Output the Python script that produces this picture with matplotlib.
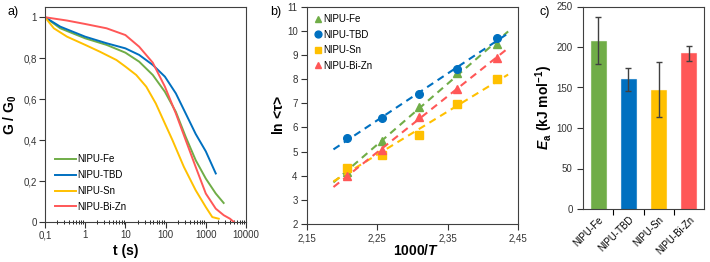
import numpy as np
import matplotlib
matplotlib.use("Agg")
import matplotlib.pyplot as plt
from matplotlib.ticker import FuncFormatter, FixedLocator, LogLocator, NullFormatter

plt.rcParams['font.family'] = ['Liberation Sans', 'DejaVu Sans']
plt.rcParams['mathtext.fontset'] = 'custom'
plt.rcParams['mathtext.rm'] = 'Liberation Sans'
plt.rcParams['mathtext.it'] = 'Liberation Sans:italic'
plt.rcParams['mathtext.bf'] = 'Liberation Sans:bold'
plt.rcParams['mathtext.bfit'] = 'Liberation Sans:bold:italic'

names = ["NIPU-Fe", "NIPU-TBD", "NIPU-Sn", "NIPU-Bi-Zn"]
colors = ["#70AD47", "#0070C0", "#FFC000", "#FF5757"]

# Panel a: stress relaxation
t_fe = [0.1, 0.24, 1.0, 3.4, 10, 22, 48, 96, 180, 316, 560, 1000, 1770, 2780]
g_fe = [1.0, 0.946, 0.897, 0.865, 0.827, 0.783, 0.718, 0.636, 0.538, 0.416, 0.302, 0.212, 0.139, 0.093]
t_tbd = [0.1, 0.24, 1.0, 3.4, 10, 22, 48, 96, 180, 316, 560, 1000, 1770]
g_tbd = [1.0, 0.954, 0.905, 0.873, 0.848, 0.816, 0.767, 0.71, 0.628, 0.53, 0.43, 0.345, 0.237]
t_sn = [0.1, 0.166, 0.354, 1.0, 2.3, 6.0, 10, 18.6, 33, 57, 96, 148, 285, 560, 1000, 1450, 2100]
g_sn = [1.0, 0.946, 0.905, 0.865, 0.832, 0.791, 0.759, 0.718, 0.661, 0.579, 0.481, 0.4, 0.269, 0.155, 0.073, 0.024, 0.016]
t_bz = [0.1, 0.35, 1.0, 3.4, 10, 22, 48, 96, 180, 316, 560, 1000, 1770, 2800, 4000, 5000]
g_bz = [1.0, 0.984, 0.967, 0.946, 0.913, 0.856, 0.778, 0.661, 0.53, 0.4, 0.269, 0.139, 0.065, 0.033, 0.016, 0.0]

# Panel b: Arrhenius
inv_T = [2.207, 2.257, 2.309, 2.363, 2.420]
ln_fe = [4.15, 5.42, 6.86, 8.27, 9.44]
ln_tbd = [5.55, 6.38, 7.37, 8.40, 9.69]
ln_sn = [4.31, 4.86, 5.69, 6.97, 7.99]
ln_bz = [3.97, 5.08, 6.42, 7.58, 8.89]

# Panel c: activation energies
ea = [208, 160, 147, 192]
ea_err = [28.5, 14, 34, 9.5]

fig = plt.figure(figsize=(7.1, 2.62), dpi=100)

def comma(v, pos):
    s = ('%g' % v)
    return s.replace('.', ',')

def style_spines(ax):
    for sp in ax.spines.values():
        sp.set_linewidth(0.8)
        sp.set_color('#404040')

# ---------- a ----------
axa = fig.add_axes([45/710, 1-222/262, 201/710, 215/262])
for t, g, c, n in zip([t_fe, t_tbd, t_sn, t_bz], [g_fe, g_tbd, g_sn, g_bz], colors, names):
    axa.plot(t, g, color=c, lw=1.4, label=n)
axa.set_xscale('log')
axa.set_xlim(0.1, 10000)
axa.set_ylim(0, 1.05)
axa.set_yticks([0, 0.2, 0.4, 0.6, 0.8, 1.0])
axa.yaxis.set_major_formatter(FuncFormatter(comma))
axa.xaxis.set_major_locator(FixedLocator([0.1, 1, 10, 100, 1000, 10000]))
axa.xaxis.set_major_formatter(FuncFormatter(lambda v, p: {0.1: '0,1', 1: '1', 10: '10', 100: '100', 1000: '1000', 10000: '10000'}.get(round(v, 4), '')))
axa.xaxis.set_minor_locator(LogLocator(base=10, subs=np.arange(2, 10)))
axa.xaxis.set_minor_formatter(NullFormatter())
axa.tick_params(which='major', direction='out', length=4, labelsize=7, width=0.8, colors='#333333', pad=2)
axa.tick_params(which='minor', direction='inout', length=3, width=0.6)
axa.set_xlabel('t (s)', fontsize=10, fontweight='bold')
axa.xaxis.set_label_coords(0.4, -0.1)
axa.set_ylabel(r'$\mathbf{G\ /\ G_0}$', fontsize=10)
axa.yaxis.set_label_coords(-0.13, 0.5)
axa.legend(loc='lower left', bbox_to_anchor=(0.02, 0.02), frameon=False, fontsize=7,
           handlelength=2.2, handletextpad=0.1, labelspacing=0.6, borderaxespad=0.2)
style_spines(axa)
fig.text(8/710, 1-12/262, 'a)', fontsize=9, va='center')

# ---------- b ----------
axb = fig.add_axes([306.7/710, 1-224/262, 211.3/710, 217.3/262])
markers = ['^', 'o', 's', '^']
xfit = np.array([2.188, 2.436])
for y, c, m, n in zip([ln_fe, ln_tbd, ln_sn, ln_bz], colors, markers, names):
    p = np.polyfit(inv_T, y, 1)
    axb.plot(xfit, np.polyval(p, xfit), color=c, lw=1.5, ls=(0, (3.5, 2.5)))
    axb.plot(inv_T, y, ls='none', marker=m, color=c, markersize=5.5, label=n)
axb.set_xlim(2.15, 2.45)
axb.set_ylim(2, 11)
axb.set_xticks([2.15, 2.25, 2.35, 2.45])
axb.set_yticks(range(2, 12))
axb.xaxis.set_major_formatter(FuncFormatter(lambda v, p: ('%.2f' % v).replace('.', ',')))
axb.tick_params(direction='out', length=4, labelsize=7, width=0.8, colors='#333333', pad=2.5)
axb.set_xlabel(r'$\mathbf{1000/}\boldsymbol{T}$', fontsize=10)
axb.xaxis.set_label_coords(0.52, -0.088)
axb.set_ylabel(r'$\mathbf{ln}$ <τ>', fontsize=10, fontweight='bold')
axb.yaxis.set_label_coords(-0.1, 0.5)
axb.legend(loc='upper left', frameon=False, fontsize=7, handlelength=0.8, handletextpad=0.1,
           labelspacing=0.55, borderaxespad=0.4, markerscale=0.9)
style_spines(axb)
fig.text(270/710, 1-12/262, 'b)', fontsize=9, va='center')

# ---------- c ----------
axc = fig.add_axes([583/710, 1-209/262, 121/710, 202.5/262])
xpos = np.arange(len(names))
axc.bar(xpos, ea, width=0.5, color=colors,
        edgecolor=[matplotlib.colors.to_rgba(c, 0.6) for c in colors], linewidth=0.8)
axc.errorbar(xpos, ea, yerr=ea_err, fmt='none', ecolor='#404040', elinewidth=1, capsize=2, capthick=1)
axc.set_xlim(-0.5, 3.5)
axc.set_ylim(0, 250)
axc.set_yticks(range(0, 251, 50))
axc.set_xticks(xpos)
axc.set_xticklabels(names, rotation=45, ha='right', rotation_mode='anchor', fontsize=7)
axc.set_xticks([0.5, 1.5, 2.5], minor=True)
axc.tick_params(axis='x', which='major', length=0, pad=4)
axc.tick_params(axis='x', which='minor', length=4, direction='out', width=0.8)
axc.tick_params(axis='y', direction='out', length=4, labelsize=7, width=0.8, colors='#333333')
axc.set_ylabel(r'$\boldsymbol{E}_\mathbf{a}$ $\mathbf{(kJ\ mol^{-1})}$', fontsize=10)
axc.yaxis.set_label_coords(-0.23, 0.5)
style_spines(axc)
fig.text(540/710, 1-12/262, 'c)', fontsize=9, va='center')

fig.savefig('out.png', dpi=100)
